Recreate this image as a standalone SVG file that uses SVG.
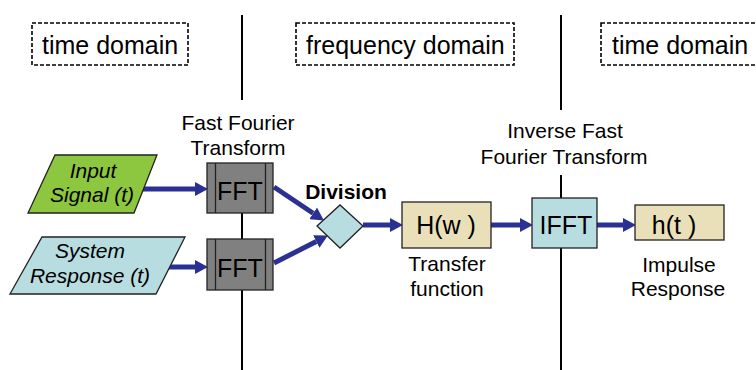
<svg xmlns="http://www.w3.org/2000/svg" width="756" height="370" viewBox="0 0 756 370">
<defs>
<style>
text{font-family:"Liberation Sans",Arial,sans-serif;fill:#000}
.dom{font-size:25px}
.lbl{font-size:21px;text-anchor:middle}
.it{font-size:21px;font-style:italic;text-anchor:middle}
.big{font-size:25px;text-anchor:middle}
.dash{fill:none;stroke:#000;stroke-width:1.6;stroke-dasharray:4 2}
.sep{stroke:#000;stroke-width:2;fill:none}
.conn{stroke:#2B3192;stroke-width:5;fill:none;marker-end:url(#ah)}
.node{stroke:#222;stroke-width:1.3}
</style>
<marker id="ah" markerUnits="userSpaceOnUse" markerWidth="13" markerHeight="14" refX="0" refY="7" orient="auto" viewBox="0 0 13 14">
<path d="M0,0 L13,7 L0,14 z" fill="#2B3192"/>
</marker>
</defs>
<rect width="756" height="370" fill="#fff"/>

<g id="separators">
<path class="sep" d="M242,15 V100 M242,213 V239 M242,290 V370"/>
<path class="sep" d="M561,15 V110 M561,175 V198 M561,248 V370"/>
</g>

<g id="domain-labels">
<g id="dom1"><rect class="dash" x="32" y="23" width="156" height="42"/><text class="dom" x="42" y="54">time domain</text></g>
<g id="dom2"><rect class="dash" x="296" y="23" width="218" height="42"/><text class="dom" x="306" y="54">frequency domain</text></g>
<g id="dom3"><rect class="dash" x="601" y="23" width="170" height="42"/><text class="dom" x="612" y="54">time domain</text></g>
</g>

<g id="connectors">
<path class="conn" d="M143,189 H195"/>
<path class="conn" d="M165,267 H195"/>
<path class="conn" d="M274,187 L313.1,213.3"/>
<path class="conn" d="M274,263 L316.3,241.5"/>
<path class="conn" d="M363,225 H390"/>
<path class="conn" d="M491,225 H520"/>
<path class="conn" d="M597,225 H623"/>
</g>

<g id="input-signal">
<polygon class="node" points="55,155 157,155 134,213 28,213" fill="#8DC63F"/>
<text class="it" x="93" y="178">Input</text>
<text class="it" x="92" y="202">Signal (t)</text>
</g>

<g id="system-response">
<polygon class="node" points="42,237 185,237 156,294 10,294" fill="#B7DDE1"/>
<text class="it" x="90" y="258">System</text>
<text class="it" x="90" y="283">Response (t)</text>
</g>

<g id="fft-label">
<text class="lbl" x="238" y="130">Fast Fourier</text>
<text class="lbl" x="238" y="155">Transform</text>
</g>

<g id="fft1">
<rect class="node" x="207" y="163" width="66" height="50" fill="#808080"/>
<path d="M215.5,163 V213 M265.5,163 V213" stroke="#222" stroke-width="1.3"/>
<text class="big" x="240" y="200">FFT</text>
</g>

<g id="fft2">
<rect class="node" x="207" y="239" width="66" height="51" fill="#808080"/>
<path d="M215.5,239 V290 M265.5,239 V290" stroke="#222" stroke-width="1.3"/>
<text class="big" x="240" y="277">FFT</text>
</g>

<g id="division">
<polygon class="node" points="317,226 340,205 363,226 340,248" fill="#B7DDE1"/>
<text x="346" y="199" font-size="21" font-weight="bold" text-anchor="middle">Division</text>
</g>

<g id="transfer-function">
<rect class="node" x="402" y="202" width="89" height="46" fill="#E9DFB9"/>
<text class="big" x="446" y="234">H(w )</text>
<text class="lbl" x="447" y="271">Transfer</text>
<text class="lbl" x="447" y="296">function</text>
</g>

<g id="ifft">
<text class="lbl" x="565" y="138">Inverse Fast</text>
<text class="lbl" x="564" y="164">Fourier Transform</text>
<rect class="node" x="532" y="198" width="65" height="50" fill="#B7DDE1"/>
<text class="big" x="566" y="234">IFFT</text>
</g>

<g id="impulse-response">
<rect class="node" x="635" y="205" width="89" height="35" fill="#E9DFB9"/>
<text class="big" x="674" y="234">h(t )</text>
<text class="lbl" x="679" y="272">Impulse</text>
<text class="lbl" x="678" y="296">Response</text>
</g>
</svg>
